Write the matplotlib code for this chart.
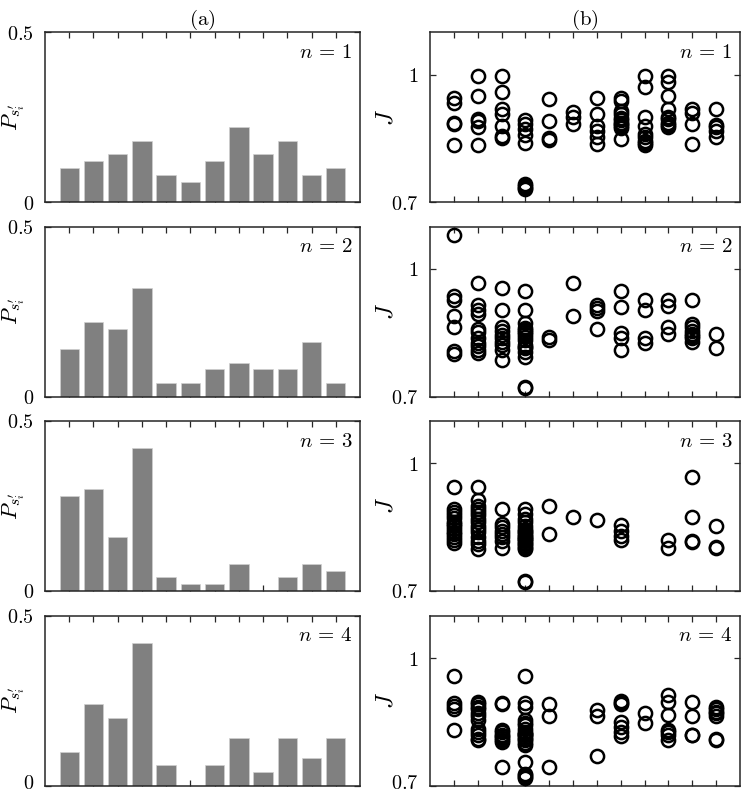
import matplotlib
matplotlib.use("Agg")
import matplotlib.pyplot as plt
import matplotlib.transforms as mtransforms
import numpy as np

plt.rcParams['mathtext.fontset'] = 'cm'
plt.rcParams['font.family'] = ['DejaVu Serif']

categories = list(range(1, 13))

P_n1 = [0.10, 0.12, 0.14, 0.18, 0.08, 0.06, 0.12, 0.22, 0.14, 0.18, 0.08, 0.10]
P_n2 = [0.14, 0.22, 0.20, 0.32, 0.04, 0.04, 0.08, 0.10, 0.08, 0.08, 0.16, 0.04]
P_n3 = [0.28, 0.30, 0.16, 0.42, 0.04, 0.02, 0.02, 0.08, 0.00, 0.04, 0.08, 0.06]
P_n4 = [0.10, 0.24, 0.20, 0.42, 0.06, 0.00, 0.06, 0.14, 0.04, 0.14, 0.08, 0.14]

J_n1 = [
    [0.945, 0.932, 0.887, 0.883, 0.835],
    [0.996, 0.950, 0.895, 0.890, 0.876, 0.835],
    [0.996, 0.958, 0.920, 0.907, 0.879, 0.856, 0.851],
    [0.894, 0.883, 0.872, 0.857, 0.839, 0.742, 0.738, 0.734, 0.730],
    [0.942, 0.891, 0.850, 0.846],
    [0.911, 0.901, 0.883],
    [0.945, 0.907, 0.879, 0.868, 0.852, 0.836],
    [0.945, 0.938, 0.915, 0.907, 0.897, 0.892, 0.887, 0.883, 0.879, 0.873, 0.848],
    [0.996, 0.970, 0.901, 0.879, 0.860, 0.852, 0.844, 0.839, 0.835],
    [0.996, 0.983, 0.950, 0.920, 0.901, 0.895, 0.887, 0.881, 0.876],
    [0.919, 0.909, 0.883, 0.836],
    [0.919, 0.881, 0.876, 0.868, 0.852],
]
J_n2 = [
    [1.079, 0.937, 0.926, 0.890, 0.864, 0.806, 0.801],
    [0.966, 0.916, 0.904, 0.895, 0.860, 0.852, 0.837, 0.826, 0.818, 0.810, 0.802],
    [0.956, 0.904, 0.864, 0.855, 0.845, 0.837, 0.829, 0.821, 0.809, 0.787],
    [0.948, 0.904, 0.872, 0.862, 0.856, 0.851, 0.846, 0.841, 0.833, 0.821, 0.817,
     0.813, 0.805, 0.793, 0.723, 0.719],
    [0.841, 0.833],
    [0.966, 0.890],
    [0.916, 0.908, 0.902, 0.860],
    [0.948, 0.910, 0.850, 0.837, 0.809],
    [0.926, 0.904, 0.837, 0.826],
    [0.928, 0.914, 0.864, 0.848],
    [0.928, 0.871, 0.863, 0.855, 0.848, 0.842, 0.837, 0.829],
    [0.848, 0.813],
]
J_n3 = [
    [0.945, 0.893, 0.887, 0.879, 0.871, 0.863, 0.858, 0.852, 0.846, 0.840, 0.834,
     0.826, 0.821, 0.814],
    [0.945, 0.913, 0.901, 0.893, 0.885, 0.878, 0.870, 0.862, 0.854, 0.846, 0.838,
     0.826, 0.818, 0.810, 0.799],
    [0.892, 0.858, 0.850, 0.842, 0.834, 0.826, 0.818, 0.800],
    [0.893, 0.881, 0.870, 0.862, 0.854, 0.846, 0.842, 0.838, 0.834, 0.830, 0.826,
     0.823, 0.822, 0.818, 0.814, 0.810, 0.806, 0.802, 0.799, 0.724, 0.720],
    [0.900, 0.834],
    [0.874],
    [0.867],
    [0.855, 0.842, 0.830, 0.820],
    [],
    [0.821, 0.800],
    [0.968, 0.874, 0.818, 0.816],
    [0.854, 0.804, 0.800],
]
J_n4 = [
    [0.958, 0.895, 0.887, 0.881, 0.830],
    [0.897, 0.892, 0.885, 0.879, 0.871, 0.863, 0.855, 0.832, 0.826, 0.818, 0.810, 0.806],
    [0.895, 0.892, 0.830, 0.825, 0.820, 0.816, 0.812, 0.808, 0.803, 0.743],
    [0.958, 0.895, 0.885, 0.854, 0.848, 0.842, 0.832, 0.826, 0.822, 0.821, 0.818,
     0.814, 0.810, 0.806, 0.800, 0.795, 0.755, 0.726, 0.724, 0.721, 0.718],
    [0.892, 0.863, 0.743],
    [],
    [0.877, 0.863, 0.769],
    [0.900, 0.895, 0.892, 0.850, 0.838, 0.826, 0.816],
    [0.870, 0.846],
    [0.913, 0.897, 0.866, 0.830, 0.826, 0.818, 0.806],
    [0.897, 0.863, 0.820, 0.818],
    [0.885, 0.879, 0.874, 0.870, 0.863, 0.810, 0.806],
]

P_rows = [P_n1, P_n2, P_n3, P_n4]
J_rows = [J_n1, J_n2, J_n3, J_n4]
n_labels = [r'$n\,=\,1$', r'$n\,=\,2$', r'$n\,=\,3$', r'$n\,=\,4$']

W, H = 747, 795
fig = plt.figure(figsize=(W / 100, H / 100), dpi=100)

row_tops = [32, 226.5, 421, 615.5]
ax_h = 170
left_x, left_w = 45, 315
right_x, right_w = 430, 310

edge_col = '#262626'

def style(ax):
    for s in ax.spines.values():
        s.set_linewidth(1.1)
        s.set_color(edge_col)
    ax.tick_params(direction='in', top=True, right=True, length=4, width=0.9,
                   colors=edge_col, labelcolor='black', labelsize=14.5, pad=8)
    ax.set_xticks(categories)
    ax.set_xticklabels([])
    ax.set_xlim(0, 13)

def lift_bottom_label(ax):
    lab = ax.get_yticklabels()[0]
    off = mtransforms.ScaledTranslation(0, 4 / 100, fig.dpi_scale_trans)
    lab.set_transform(lab.get_transform() + off)

for r in range(4):
    top = row_tops[r]
    axL = fig.add_axes([left_x / W, 1 - (top + ax_h) / H, left_w / W, ax_h / H])
    axR = fig.add_axes([right_x / W, 1 - (top + ax_h) / H, right_w / W, ax_h / H])

    axL.bar(categories, P_rows[r], width=0.8, color='#808080', edgecolor='#d0d0d0',
            linewidth=0.5, zorder=2)
    axL.set_ylim(0, 0.5)
    axL.set_yticks([0, 0.5])
    axL.set_yticklabels([r'$0$', r'$0.5$'])
    style(axL)
    axL.set_ylabel(r"$P_{s^{\prime}_{i}}$", fontsize=16)
    axL.yaxis.set_label_coords(-0.058, 0.5)
    axL.text(0.975, 0.88, n_labels[r], transform=axL.transAxes, ha='right',
             va='center', fontsize=15)

    for c, vals in zip(categories, J_rows[r]):
        if len(vals):
            axR.plot([c] * len(vals), vals, linestyle='none', marker='o',
                     markersize=9.5, markerfacecolor='none', markeredgecolor='black',
                     markeredgewidth=1.8, clip_on=False, zorder=3)
    axR.set_ylim(0.7, 1.1)
    axR.set_yticks([0.7, 1.0])
    axR.set_yticklabels([r'$0.7$', r'$1$'])
    style(axR)
    axR.set_ylabel(r'$J$', fontsize=17)
    axR.yaxis.set_label_coords(-0.105, 0.5)
    axR.text(0.975, 0.88, n_labels[r], transform=axR.transAxes, ha='right',
             va='center', fontsize=15)

    if r == 3:
        lift_bottom_label(axL)
        lift_bottom_label(axR)

    if r == 0:
        axL.set_title(r'$\mathrm{(a)}$', fontsize=15, pad=1)
        axR.set_title(r'$\mathrm{(b)}$', fontsize=15, pad=1)

fig.savefig('out.png', dpi=100)
